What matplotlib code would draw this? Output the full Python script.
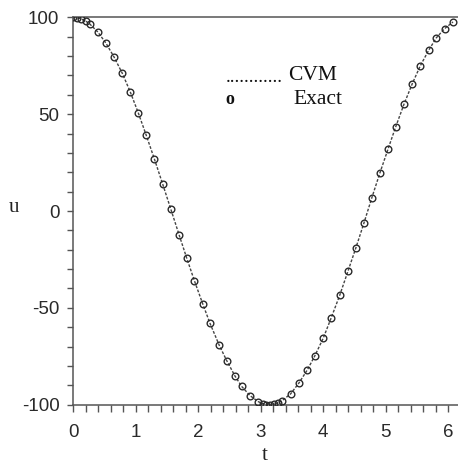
import matplotlib
matplotlib.use("Agg")
import matplotlib.pyplot as plt
from matplotlib.ticker import MultipleLocator

plt.rcParams["axes.unicode_minus"] = False

# Data
t_vals = [0.0, 0.064, 0.131, 0.196, 0.262, 0.390, 0.522, 0.654, 0.783, 0.912,
          1.040, 1.168, 1.300, 1.431, 1.559, 1.697, 1.816, 1.938, 2.072, 2.189,
          2.338, 2.456, 2.589, 2.697, 2.830, 2.960, 3.030, 3.090, 3.150, 3.210,
          3.270, 3.340, 3.480, 3.615, 3.750, 3.870, 4.003, 4.127, 4.265, 4.400,
          4.525, 4.652, 4.780, 4.908, 5.040, 5.163, 5.296, 5.429, 5.557, 5.691,
          5.813, 5.947, 6.080]
u_exact = [100.0, 99.8, 99.1, 98.1, 96.6, 92.5, 86.7, 79.4, 71.2, 61.5,
           50.7, 39.1, 26.7, 13.9, 1.2, -12.6, -24.3, -35.9, -47.9, -58.0,
           -69.4, -77.2, -85.2, -90.6, -95.3, -98.4, -99.4, -99.9, -100.0, -99.8,
           -99.2, -98.0, -94.4, -88.7, -81.9, -74.6, -65.6, -55.4, -43.6, -30.9,
           -19.0, -6.4, 6.8, 19.5, 32.0, 43.5, 55.2, 65.8, 75.0, 83.0,
           89.4, 94.2, 97.6]
u_cvm = u_exact

fig = plt.figure(figsize=(4.58, 4.63), dpi=100)
ax = fig.add_axes([73.3 / 458, (463 - 404.7) / 463, 1 - 73.3 / 458, (404.7 - 17.3) / 463])

ax.plot(t_vals, u_cvm, linestyle=(0, (2, 1.2)), color="#444444", linewidth=1.0, zorder=2)
ax.plot(t_vals, u_exact, linestyle="none", marker="o", markersize=4.8,
        markerfacecolor="none", markeredgecolor="#2a2a2a", markeredgewidth=1.0, zorder=3)

ax.set_xlim(0, (458 - 73.3) / 62.45)
ax.set_ylim(-100, 100)

ax.xaxis.set_major_locator(MultipleLocator(1))
ax.xaxis.set_minor_locator(MultipleLocator(0.2))
ax.yaxis.set_major_locator(MultipleLocator(50))
ax.yaxis.set_minor_locator(MultipleLocator(10))

ax.spines["right"].set_visible(False)
for side in ["left", "bottom", "top"]:
    ax.spines[side].set_color("#555555")
    ax.spines[side].set_linewidth(1.1)

ax.tick_params(which="both", direction="out", color="#555555", width=1.0,
               top=False, right=False)
ax.tick_params(axis="y", which="both", length=4)
ax.tick_params(axis="x", which="both", length=5)
ax.tick_params(axis="y", which="major", pad=6)
ax.tick_params(axis="x", which="major", pad=9)

for lab in ax.get_xticklabels() + ax.get_yticklabels():
    lab.set_fontfamily("Liberation Sans")
    lab.set_fontsize(13.5)
    lab.set_color("#2a2a2a")

fig.text(14 / 458, 1 - 208 / 463, "u", family="Liberation Serif", fontsize=15,
         ha="center", va="center", color="#222222")
fig.text(265 / 458, 1 - 455 / 463, "t", family="Liberation Serif", fontsize=15,
         ha="center", va="center", color="#222222")

# legend as text
fig.text(226 / 458, 1 - 78 / 463, "............", family="Liberation Serif",
         fontsize=14, ha="left", va="center", color="#111111")
fig.text(288 / 458, 1 - 76 / 463, "CVM", family="Liberation Serif",
         fontsize=15.5, ha="left", va="center", color="#111111")
fig.text(230 / 458, 1 - 100 / 463, "o", family="Liberation Serif", fontweight="bold",
         fontsize=13, ha="center", va="center", color="#111111")
fig.text(293 / 458, 1 - 99 / 463, "Exact", family="Liberation Serif",
         fontsize=15.5, ha="left", va="center", color="#111111")

fig.savefig("out.png", dpi=100)
